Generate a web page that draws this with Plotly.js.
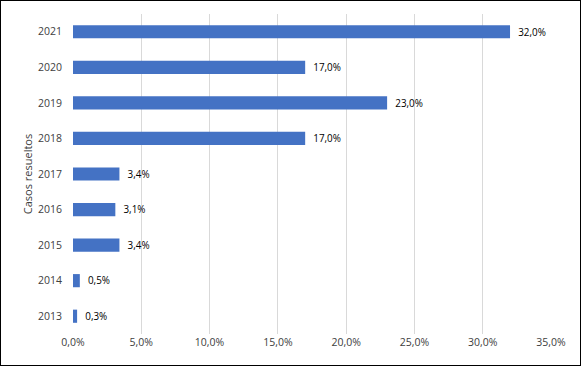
<!DOCTYPE html>
<html>
<head>
<meta charset="utf-8">
<script src="https://cdn.plot.ly/plotly-3.0.1.min.js"></script>
<style>
html,body{margin:0;padding:0;background:#fff;}
#chart{width:579px;height:364px;border:1px solid #000;}
</style>
</head>
<body>
<div id="chart"></div>
<script>
const years = ["2013","2014","2015","2016","2017","2018","2019","2020","2021"];
const values = [0.003, 0.005, 0.034, 0.031, 0.034, 0.17, 0.23, 0.17, 0.32];
const xTicks = [0, 0.05, 0.10, 0.15, 0.20, 0.25, 0.30, 0.35];

const font = {family: "Open Sans, Noto Sans, sans-serif", size: 10.5, color: "#404040"};

Plotly.newPlot("chart", [{
  type: "bar",
  orientation: "h",
  y: years,
  x: values,
  marker: {color: "#4472C4"},
  text: values,
  texttemplate: "\u00a0\u00a0%{x:.1%}",
  textposition: "outside",
  textfont: {family: font.family, size: 10.5, color: "#000"},
  cliponaxis: false,
  hoverinfo: "skip"
}], {
  width: 579, height: 364,
  margin: {l: 72, r: 29, t: 13, b: 31},
  separators: ",.",
  font: font,
  bargap: 0.63,
  showlegend: false,
  paper_bgcolor: "#fff",
  plot_bgcolor: "#fff",
  xaxis: {
    range: [0, 0.35],
    tickvals: xTicks,
    tickformat: ".1%",
    showgrid: true,
    gridcolor: "#d9d9d9",
    zeroline: false,
    showline: false,
    ticks: "",
    fixedrange: true
  },
  yaxis: {
    type: "category",
    categoryorder: "array",
    categoryarray: years,
    ticks: "",
    showgrid: false,
    zeroline: false,
    showline: false,
    ticklabelstandoff: 10,
    title: {text: "Casos resueltos", font: {family: font.family, size: 11, color: "#404040"}, standoff: 3},
    fixedrange: true
  }
}, {displayModeBar: false, staticPlot: true});
</script>
</body>
</html>
